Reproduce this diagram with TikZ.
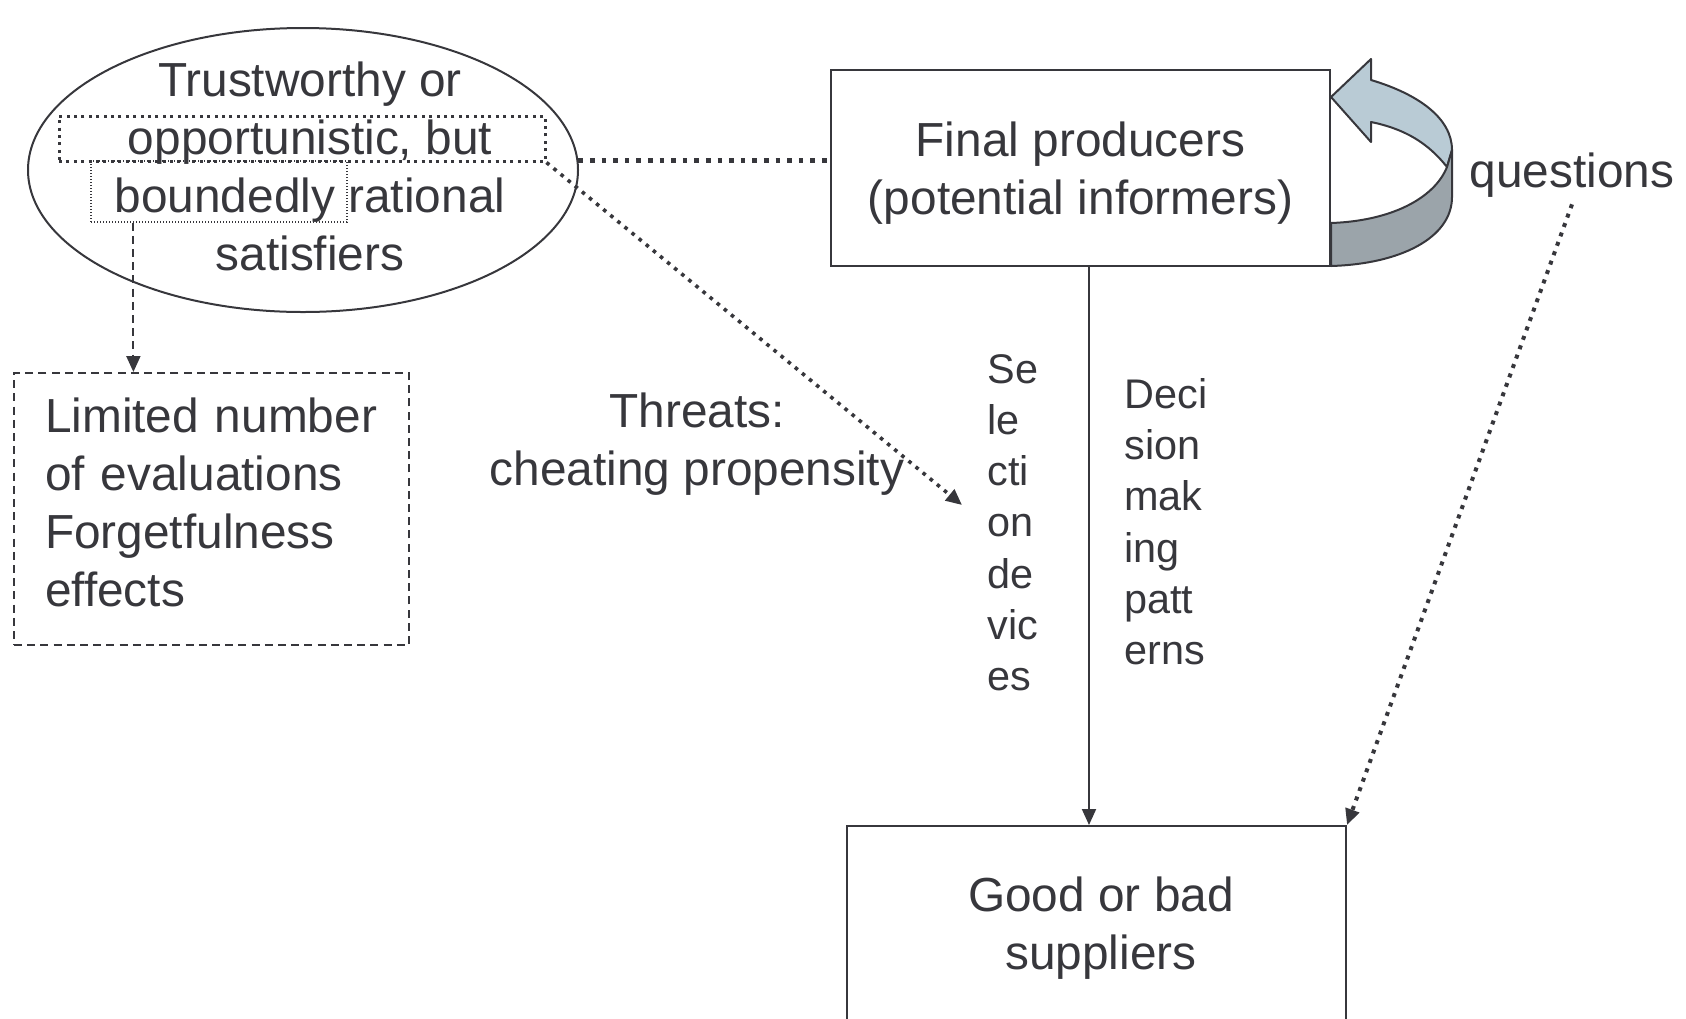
\documentclass[tikz,border=0pt]{standalone}
\usepackage{fontspec}
\setmainfont{Liberation Sans}
\usetikzlibrary{shapes.geometric,arrows.meta}
\definecolor{ink}{RGB}{55,55,60}
\definecolor{ribbonlight}{RGB}{185,203,213}
\definecolor{ribbondark}{RGB}{155,164,170}

\begin{document}
\begin{tikzpicture}[x=0.5pt,y=-0.5pt,
  every node/.style={text=ink},
  bigtext/.style={font=\fontsize{23.9}{29}\selectfont},
  coltext/.style={font=\fontsize{20.7}{25.6}\selectfont, align=left, inner sep=0pt, anchor=north west},
  solidline/.style={draw=ink, line width=1pt},
  tip/.style={-{Triangle[length=8pt,width=7pt]}},
  thickdots/.style={draw=ink, line width=2.3pt, dash pattern=on 2.3pt off 3.5pt},
  finedots/.style={draw=ink, line width=1.8pt, dash pattern=on 1.8pt off 2.8pt},
  qdots/.style={draw=ink, line width=2pt, dash pattern=on 2pt off 3pt},
  boxdots/.style={draw=ink, line width=1.5pt, dash pattern=on 1.5pt off 2.2pt},
  hairdots/.style={draw=ink, line width=0.6pt, dash pattern=on 0.6pt off 0.9pt},
  dashline/.style={draw=ink, line width=1pt, dash pattern=on 4pt off 2.6pt},
  plainbox/.style={solidline, inner sep=0pt},
]
\useasboundingbox (0,0) rectangle (1686,1018);

% agents' nature
\node[ellipse, solidline, minimum width=275pt, minimum height=142pt, inner sep=0pt] (trust) at (303,170) {};
\node[bigtext, align=center] (trusttext) at (310,166)
  {Trustworthy or\\opportunistic, but\\boundedly rational\\satisfiers};
\node[boxdots, minimum width=243pt, minimum height=22.5pt, inner sep=0pt] (oppbox) at (302,138.5) {};
\node[hairdots, minimum width=128pt, minimum height=30.5pt, inner sep=0pt] (bndbox) at (219,191.5) {};

% consequences of bounded rationality
\node[dashline, minimum width=197.5pt, minimum height=136pt, inner sep=0pt] (lim) at (211.5,509) {};
\node[bigtext, text width=166.5pt, align=left, inner sep=0pt] (limtext) at (211.5,502)
  {Limited number\\of evaluations\\Forgetfulness\\effects};
\coordinate (dtop) at ([xshift=21.5pt]bndbox.south west);
\draw[dashline, tip] (dtop) -- (dtop |- lim.north);

% producers and suppliers
\node[plainbox, minimum width=249.5pt, minimum height=98pt] (fp) at (1080.5,168) {};
\node[bigtext, align=center] (fptext) at (1080.5,173) {Final producers\\(potential informers)};
\node[plainbox, minimum width=249.5pt, minimum height=107pt] (gb) at (1096.5,933) {};
\node[bigtext, align=center] (gbtext) at (1101,928) {Good or bad\\suppliers};

\coordinate (vtop) at ([xshift=4.25pt]fp.south);
\draw[solidline, tip] (vtop) -- (vtop |- gb.north);

\node[coltext] (sel) at (987,354) {Se\\le\\cti\\on\\de\\vic\\es};
\node[coltext] (dec) at (1124,378) {Deci\\sion\\mak\\ing\\patt\\erns};

% threats
\node[bigtext, align=center] (threats) at (697,444) {Threats:\\cheating propensity};
\coordinate (threatend) at (962,505);
\draw[finedots, tip] (oppbox.south east) -- (threatend);

% link between agents and producers
\draw[thickdots] (trust.2) -- (trust.2 -| fp.west);

% self-questioning loop
\filldraw[fill=ribbonlight, draw=ink, line width=1pt, line join=round]
  (1331,97) -- (1371,59) -- (1371,80)
  .. controls (1418,94) and (1452,118) .. (1452,150)
  -- (1447,167)
  .. controls (1428,143) and (1405,129) .. (1371,122)
  -- (1371,142) -- cycle;
\filldraw[fill=ribbondark, draw=ink, line width=1pt, line join=round]
  (1452,150) -- (1452,197)
  .. controls (1452,238) and (1400,264) .. (1331,266)
  -- (1331,223)
  .. controls (1390,221) and (1434,199) .. (1447,167) -- cycle;
\node[bigtext] (questions) at (1572,175) {questions};
\draw[qdots, tip] (questions.south) -- (gb.north east);
\end{tikzpicture}
\end{document}
